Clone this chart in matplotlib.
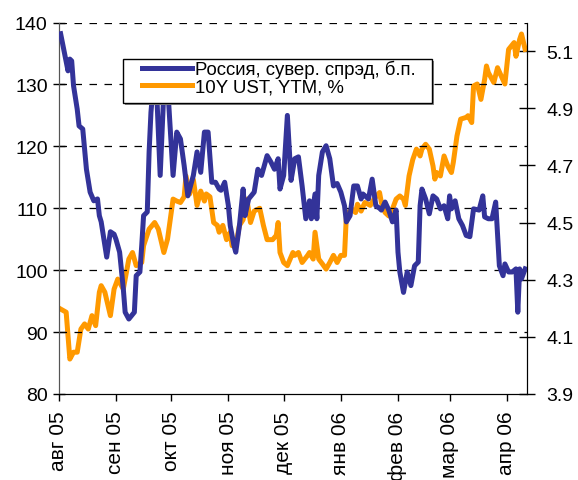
import matplotlib
matplotlib.use("Agg")
import matplotlib.pyplot as plt
from matplotlib.patches import Rectangle
from matplotlib.legend_handler import HandlerLine2D
import pandas as pd

plt.rcParams['font.family'] = ['Liberation Sans', 'DejaVu Sans']

# Russia sovereign spread, bp (left axis)
spread_dates = [
    "2005-08-02", "2005-08-04", "2005-08-06", "2005-08-07", "2005-08-08", "2005-08-09", "2005-08-11",
    "2005-08-12", "2005-08-14", "2005-08-16", "2005-08-18", "2005-08-20", "2005-08-22", "2005-08-23",
    "2005-08-24", "2005-08-26", "2005-08-27", "2005-08-29", "2005-08-31", "2005-09-01", "2005-09-03",
    "2005-09-05", "2005-09-06", "2005-09-08", "2005-09-11", "2005-09-12", "2005-09-14", "2005-09-15",
    "2005-09-16", "2005-09-18", "2005-09-19", "2005-09-20", "2005-09-21", "2005-09-23", "2005-09-25",
    "2005-09-27", "2005-09-29", "2005-10-02", "2005-10-04", "2005-10-06", "2005-10-08", "2005-10-10",
    "2005-10-13", "2005-10-15", "2005-10-17", "2005-10-19", "2005-10-21", "2005-10-23", "2005-10-25",
    "2005-10-27", "2005-10-28", "2005-10-30", "2005-11-01", "2005-11-02", "2005-11-04", "2005-11-05",
    "2005-11-07", "2005-11-09", "2005-11-10", "2005-11-12", "2005-11-15", "2005-11-17", "2005-11-19",
    "2005-11-22", "2005-11-24", "2005-11-26", "2005-11-28", "2005-11-29", "2005-12-01", "2005-12-03",
    "2005-12-05", "2005-12-07", "2005-12-09", "2005-12-11", "2005-12-13", "2005-12-15", "2005-12-16",
    "2005-12-18", "2005-12-19", "2005-12-20", "2005-12-22", "2005-12-24", "2005-12-26", "2005-12-28",
    "2005-12-30", "2006-01-01", "2006-01-03", "2006-01-04", "2006-01-06", "2006-01-08", "2006-01-10",
    "2006-01-12", "2006-01-13", "2006-01-16", "2006-01-18", "2006-01-20", "2006-01-22", "2006-01-23",
    "2006-01-25", "2006-01-27", "2006-01-29", "2006-01-31", "2006-02-01", "2006-02-02", "2006-02-04",
    "2006-02-06", "2006-02-08", "2006-02-10", "2006-02-12", "2006-02-13", "2006-02-14", "2006-02-16",
    "2006-02-18", "2006-02-20", "2006-02-22", "2006-02-24", "2006-02-26", "2006-02-28", "2006-03-01",
    "2006-03-02", "2006-03-04", "2006-03-06", "2006-03-08", "2006-03-10", "2006-03-12", "2006-03-14",
    "2006-03-17", "2006-03-19", "2006-03-20", "2006-03-22", "2006-03-24", "2006-03-26", "2006-03-28",
    "2006-03-30", "2006-03-31", "2006-04-02", "2006-04-04", "2006-04-06", "2006-04-07", "2006-04-08",
    "2006-04-09", "2006-04-11",
]
spread = [
    138.2, 135.2, 132.2, 134.1, 133.8, 129.8, 126.0,
    123.3, 122.8, 116.3, 112.6, 111.2, 111.5, 108.8,
    107.8, 104.0, 102.1, 106.2, 105.8, 105.0, 102.9,
    97.0, 93.2, 92.1, 93.2, 99.1, 99.7, 104.0,
    108.8, 109.4, 119.1, 125.5, 129.0, 129.5, 115.3,
    129.0, 130.0, 115.3, 122.3, 121.2, 116.9, 112.0,
    115.3, 119.1, 115.8, 122.3, 122.3, 114.2, 114.2,
    113.1, 112.9, 114.2, 110.4, 107.2, 104.0, 102.9,
    107.2, 113.1, 108.8, 111.5, 112.6, 116.3, 115.3,
    118.5, 117.5, 116.3, 118.0, 113.1, 115.3, 125.0,
    114.5, 118.0, 118.3, 113.6, 108.3, 111.2, 108.3,
    112.3, 108.3, 115.3, 119.1, 120.1, 118.0, 113.6,
    114.0, 112.6, 110.4, 107.8, 108.8, 113.6, 113.6,
    111.5, 112.3, 111.5, 114.7, 110.4, 110.0, 109.7,
    111.0, 109.7, 107.8, 109.7, 102.9, 99.7, 96.4,
    99.7, 97.5, 100.7, 101.3, 110.4, 113.1, 111.5,
    109.1, 112.0, 111.5, 109.9, 110.4, 108.3, 112.0,
    109.9, 111.2, 108.3, 107.2, 105.6, 105.4, 109.9,
    109.7, 112.0, 108.6, 108.3, 108.3, 111.0, 100.7,
    99.1, 101.0, 99.7, 99.7, 100.2, 93.2, 100.2,
    98.6, 100.2,
]

# 10Y UST yield to maturity, % (right axis)
ust_dates = [
    "2005-08-02", "2005-08-05", "2005-08-07", "2005-08-09", "2005-08-11", "2005-08-13", "2005-08-15",
    "2005-08-17", "2005-08-19", "2005-08-21", "2005-08-23", "2005-08-24", "2005-08-26", "2005-08-29",
    "2005-08-31", "2005-09-02", "2005-09-05", "2005-09-07", "2005-09-08", "2005-09-10", "2005-09-12",
    "2005-09-15", "2005-09-16", "2005-09-19", "2005-09-22", "2005-09-24", "2005-09-27", "2005-09-29",
    "2005-10-02", "2005-10-04", "2005-10-06", "2005-10-08", "2005-10-09", "2005-10-11", "2005-10-13",
    "2005-10-15", "2005-10-17", "2005-10-19", "2005-10-20", "2005-10-22", "2005-10-24", "2005-10-26",
    "2005-10-27", "2005-10-29", "2005-10-31", "2005-11-02", "2005-11-03", "2005-11-05", "2005-11-07",
    "2005-11-09", "2005-11-11", "2005-11-13", "2005-11-15", "2005-11-18", "2005-11-20", "2005-11-22",
    "2005-11-25", "2005-11-27", "2005-11-28", "2005-11-29", "2005-12-01", "2005-12-03", "2005-12-06",
    "2005-12-07", "2005-12-09", "2005-12-11", "2005-12-14", "2005-12-15", "2005-12-17", "2005-12-18",
    "2005-12-20", "2005-12-22", "2005-12-24", "2005-12-26", "2005-12-28", "2005-12-30", "2006-01-01",
    "2006-01-03", "2006-01-04", "2006-01-05", "2006-01-07", "2006-01-09", "2006-01-10", "2006-01-12",
    "2006-01-14", "2006-01-17", "2006-01-19", "2006-01-22", "2006-01-23", "2006-01-25", "2006-01-27",
    "2006-01-29", "2006-01-31", "2006-02-02", "2006-02-04", "2006-02-05", "2006-02-07", "2006-02-09",
    "2006-02-11", "2006-02-13", "2006-02-14", "2006-02-16", "2006-02-18", "2006-02-20", "2006-02-21",
    "2006-02-22", "2006-02-24", "2006-02-26", "2006-02-28", "2006-03-02", "2006-03-03", "2006-03-05",
    "2006-03-07", "2006-03-10", "2006-03-11", "2006-03-13", "2006-03-14", "2006-03-16", "2006-03-18",
    "2006-03-20", "2006-03-21", "2006-03-22", "2006-03-25", "2006-03-27", "2006-03-29", "2006-03-31",
    "2006-04-02", "2006-04-05", "2006-04-06", "2006-04-08", "2006-04-09", "2006-04-11",
]
ust = [
    4.197, 4.186, 4.022, 4.046, 4.046, 4.127, 4.145,
    4.127, 4.174, 4.139, 4.256, 4.279, 4.256, 4.174,
    4.267, 4.302, 4.267, 4.337, 4.372, 4.395, 4.349,
    4.360, 4.419, 4.477, 4.500, 4.477, 4.395, 4.442,
    4.582, 4.575, 4.570, 4.590, 4.663, 4.600, 4.650,
    4.560, 4.610, 4.575, 4.600, 4.590, 4.500, 4.490,
    4.466, 4.490, 4.440, 4.466, 4.419, 4.419, 4.490,
    4.510, 4.582, 4.500, 4.540, 4.550, 4.490, 4.440,
    4.440, 4.455, 4.500, 4.395, 4.360, 4.349, 4.395,
    4.385, 4.395, 4.360, 4.385, 4.395, 4.372, 4.466,
    4.372, 4.355, 4.337, 4.360, 4.385, 4.360, 4.385,
    4.385, 4.523, 4.535, 4.547, 4.535, 4.564, 4.540,
    4.570, 4.560, 4.582, 4.605, 4.570, 4.535, 4.523,
    4.547, 4.582, 4.593, 4.582, 4.560, 4.663, 4.720,
    4.757, 4.733, 4.757, 4.774, 4.757, 4.698, 4.652,
    4.675, 4.663, 4.733, 4.698, 4.675, 4.710, 4.803,
    4.862, 4.868, 4.874, 4.850, 4.978, 4.985, 4.931,
    5.001, 5.048, 5.025, 4.990, 5.042, 5.013, 4.985,
    5.106, 5.130, 5.082, 5.141, 5.160, 5.106,
]

month_starts = ["2005-08-01", "2005-09-01", "2005-10-01", "2005-11-01", "2005-12-01",
                "2006-01-01", "2006-02-01", "2006-03-01", "2006-04-01"]
month_labels = ["авг 05", "сен 05", "окт 05", "ноя 05", "дек 05",
                "янв 06", "фев 06", "мар 06", "апр 06"]

left_ticks = [80, 90, 100, 110, 120, 130, 140]
right_ticks = [3.9, 4.1, 4.3, 4.5, 4.7, 4.9, 5.1]

blue = "#333399"
orange = "#FF9900"

fig = plt.figure(figsize=(5.78, 4.81), dpi=100)
ax = fig.add_axes([0.1017, 0.179, 0.8101, 0.772])
ax2 = ax.twinx()

ax.plot(pd.to_datetime(spread_dates), spread, color=blue, lw=3.6,
        solid_joinstyle="round", label="Россия, сувер. спрэд, б.п.", zorder=3)
ax2.plot(pd.to_datetime(ust_dates), ust, color=orange, lw=3.6,
         solid_joinstyle="round", label="10Y UST, YTM, %", zorder=2)

# blue line drawn above orange
ax.set_zorder(ax2.get_zorder() + 1)
ax.patch.set_visible(False)

ax.set_xlim(pd.Timestamp("2005-08-01"), pd.Timestamp("2006-04-12"))
ax.set_ylim(80, 140)
ax2.set_ylim(3.9, 5.2)

ax.set_yticks(left_ticks)
ax2.set_yticks(right_ticks)
ax.set_xticks(pd.to_datetime(month_starts))
ax.set_xticklabels(month_labels, rotation=90, fontsize=15)
ax.tick_params(axis="y", labelsize=14, direction="inout", length=8, width=1, pad=4)
ax2.tick_params(axis="y", labelsize=14, direction="inout", length=12, width=1, pad=8)
ax.tick_params(axis="x", direction="out", length=5, width=1, pad=7)

for y in left_ticks[1:]:
    ax.axhline(y, color="black", lw=0.9, ls=(0, (6, 6)), zorder=1)

for a in (ax, ax2):
    a.spines["top"].set_visible(False)
    a.spines["left"].set_color("#555555")
    a.spines["bottom"].set_color("black")
    a.spines["right"].set_color("black")

# legend box
ax.add_patch(Rectangle((0.1405, 0.7793), 0.66, 0.1184, transform=ax.transAxes,
                       facecolor="#888888", edgecolor="none", zorder=8, clip_on=False))
ax.add_patch(Rectangle((0.1365, 0.7833), 0.66, 0.1184, transform=ax.transAxes,
                       facecolor="white", edgecolor="black", lw=1.0, zorder=9, clip_on=False))

h1, l1 = ax.get_legend_handles_labels()
h2, l2 = ax2.get_legend_handles_labels()
leg = ax.legend(h1 + h2, l1 + l2, loc="upper left", bbox_to_anchor=(0.177, 0.899),
                fontsize=13.4, handlelength=2.69, handletextpad=0.18, labelspacing=0.0,
                borderpad=0, borderaxespad=0, frameon=False,
                handler_map={h: HandlerLine2D() for h in h1 + h2})
leg.set_zorder(10)

fig.savefig("out.png", dpi=100)
